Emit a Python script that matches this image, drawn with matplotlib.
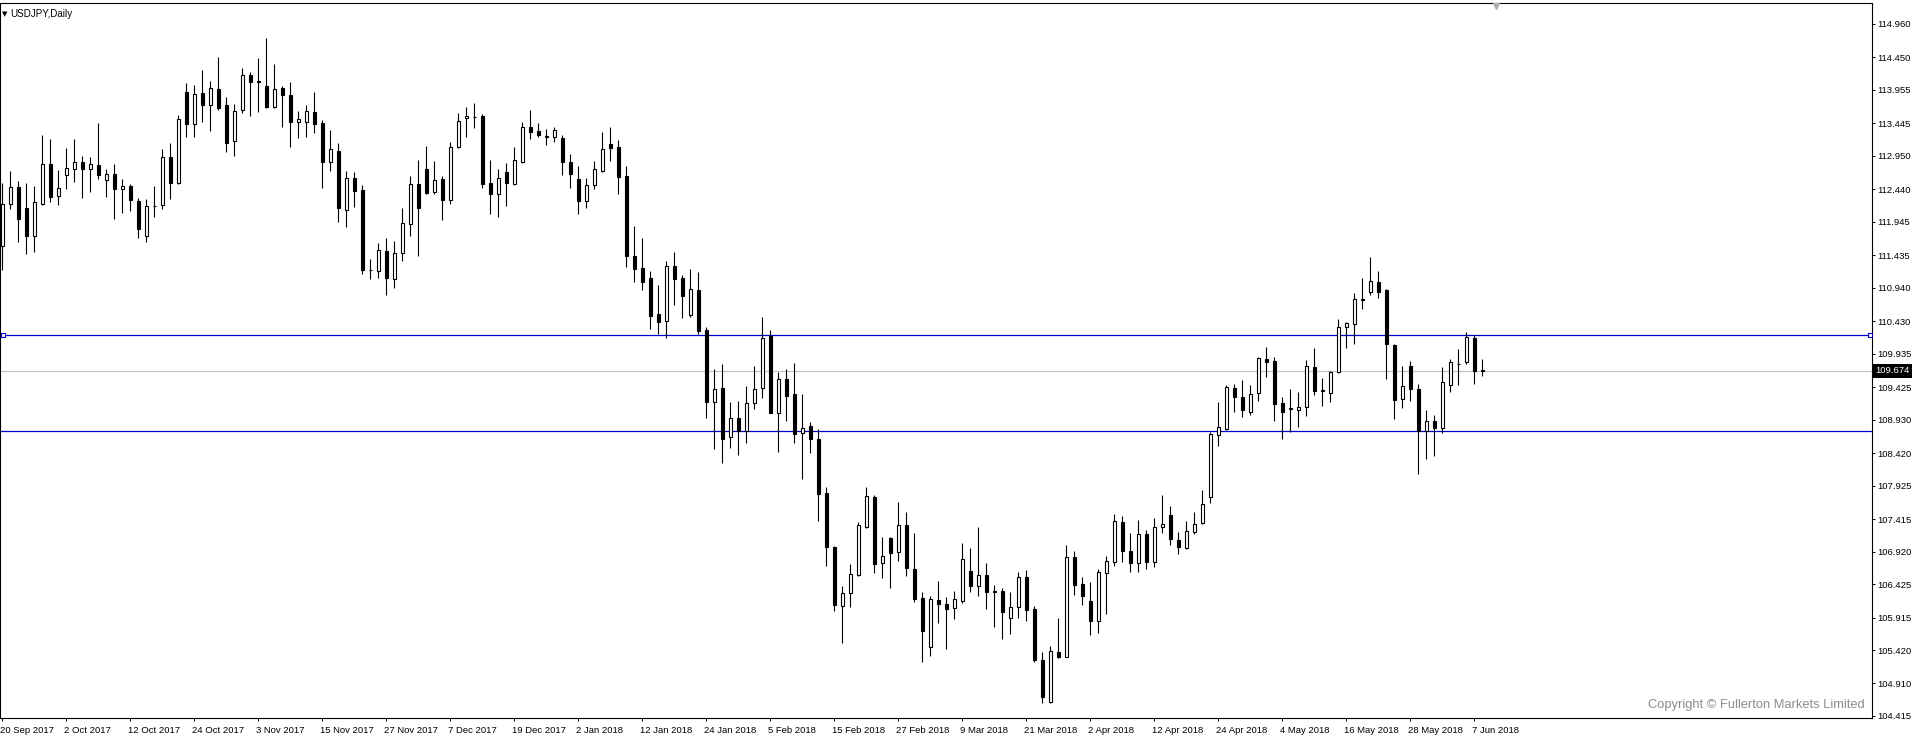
import numpy as np
import matplotlib.pyplot as plt
from matplotlib.transforms import blended_transform_factory, ScaledTranslation

plt.rcParams.update({
    'font.family': ['Liberation Sans', 'DejaVu Sans'],
    'font.size': 6.8,
})

# daily OHLC, USDJPY, 20 Sep 2017 .. 8 Jun 2018
opens = [
    111.582, 112.212, 112.471, 112.151, 111.724, 112.212, 112.821, 112.334, 112.654, 112.745,
    112.852, 112.745, 112.806, 112.578, 112.669, 112.440, 112.491, 112.263, 111.724, 112.191,
    112.197, 112.928, 112.532, 113.930, 113.431, 113.908, 113.731, 113.964, 113.720, 113.172,
    113.644, 114.178, 114.090, 114.010, 113.690, 113.980, 113.873, 113.461, 113.461, 113.614,
    113.446, 112.862, 113.024, 112.120, 112.608, 112.425, 111.208, 111.191, 111.500, 111.080,
    111.465, 111.907, 112.517, 112.750, 112.405, 112.598, 112.273, 113.080, 113.522, 113.550,
    113.558, 112.532, 112.374, 112.699, 112.527, 112.862, 113.385, 113.324, 113.248, 113.233,
    113.223, 112.857, 112.593, 112.268, 112.501, 112.720, 113.131, 113.080, 112.644, 111.424,
    111.241, 111.089, 110.540, 110.439, 111.272, 111.089, 110.530, 110.906, 110.297, 109.204,
    109.418, 108.671, 108.950, 108.752, 109.179, 109.408, 110.205, 109.037, 109.545, 109.316,
    108.722, 108.829, 108.636, 107.813, 106.985, 106.096, 106.284, 106.563, 107.300, 107.752,
    106.741, 107.127, 106.909, 107.325, 106.654, 106.208, 105.461, 106.177, 106.116, 106.055,
    106.172, 106.624, 106.401, 106.558, 106.314, 106.314, 105.903, 106.081, 106.528, 106.045,
    105.263, 104.633, 105.385, 105.319, 106.833, 106.421, 106.162, 105.867, 106.589, 106.756,
    107.366, 106.924, 106.741, 107.188, 106.766, 107.290, 107.472, 107.091, 106.970, 107.213,
    107.351, 107.757, 108.692, 108.793, 109.408, 109.276, 109.052, 109.332, 109.850, 109.824,
    109.179, 109.103, 109.073, 109.118, 109.728, 109.377, 109.332, 109.652, 110.348, 110.383,
    110.764, 110.871, 111.023, 110.906, 110.063, 109.240, 109.748, 109.393, 108.752, 108.905,
    108.798, 109.454, 109.774, 109.804, 110.170, 109.680,
]
highs = [
    112.532, 112.720, 112.567, 112.532, 112.491, 113.269, 113.202, 112.735, 113.065, 113.202,
    112.948, 112.928, 113.446, 112.745, 112.821, 112.593, 112.522, 112.303, 112.288, 112.491,
    113.050, 113.141, 113.573, 114.061, 114.030, 114.259, 114.091, 114.457, 113.853, 113.741,
    114.284, 114.223, 114.442, 114.747, 114.350, 114.015, 114.071, 113.634, 113.726, 113.924,
    113.497, 113.345, 113.141, 112.720, 112.699, 112.506, 111.374, 111.617, 111.694, 111.653,
    112.151, 112.644, 112.887, 113.101, 112.872, 112.644, 113.157, 113.599, 113.690, 113.751,
    113.583, 112.882, 112.750, 112.837, 113.080, 113.461, 113.649, 113.446, 113.365, 113.385,
    113.268, 112.974, 112.796, 112.608, 112.872, 113.309, 113.390, 113.192, 112.796, 111.882,
    111.699, 111.196, 110.982, 111.348, 111.480, 111.135, 111.226, 111.181, 110.342, 109.707,
    109.778, 109.199, 109.215, 109.443, 109.748, 110.495, 110.297, 109.652, 109.697, 109.789,
    109.322, 108.895, 108.788, 107.899, 107.005, 106.396, 106.731, 107.371, 107.899, 107.782,
    107.142, 107.147, 107.681, 107.523, 107.208, 106.299, 106.243, 106.472, 106.233, 106.324,
    107.046, 106.970, 107.290, 106.741, 106.411, 106.360, 106.299, 106.609, 106.639, 106.091,
    105.395, 105.481, 105.908, 107.015, 106.929, 106.528, 106.457, 106.650, 106.853, 107.493,
    107.462, 107.208, 107.401, 107.249, 107.432, 107.782, 107.615, 107.218, 107.386, 107.518,
    107.858, 108.747, 109.200, 109.459, 109.474, 109.535, 109.459, 109.880, 110.038, 109.880,
    109.276, 109.398, 109.347, 109.840, 110.017, 109.570, 109.672, 110.464, 110.414, 110.856,
    111.084, 111.409, 111.196, 110.917, 110.078, 109.748, 109.824, 109.474, 109.078, 109.001,
    109.733, 109.855, 110.007, 110.261, 110.220, 109.855,
]
lows = [
    111.211, 112.136, 111.643, 111.460, 111.490, 112.202, 112.252, 112.202, 112.440, 112.557,
    112.313, 112.405, 112.598, 112.329, 111.983, 112.075, 112.115, 111.694, 111.643, 112.024,
    112.136, 112.288, 112.517, 113.243, 113.243, 113.472, 113.334, 113.649, 113.014, 112.953,
    113.599, 113.563, 113.624, 113.685, 113.685, 113.395, 113.091, 113.217, 113.243, 113.304,
    112.466, 112.725, 111.948, 111.871, 112.176, 111.145, 111.069, 111.084, 110.830, 110.930,
    111.353, 111.734, 111.429, 112.364, 112.369, 111.973, 112.212, 113.065, 113.243, 113.370,
    112.456, 112.059, 112.024, 112.191, 112.511, 112.837, 113.202, 113.243, 113.116, 113.157,
    112.659, 112.466, 112.059, 112.151, 112.451, 112.705, 112.877, 112.364, 111.262, 111.028,
    110.906, 110.312, 110.241, 110.180, 110.678, 110.485, 110.495, 110.241, 108.961, 108.483,
    108.275, 108.503, 108.397, 108.580, 109.088, 109.265, 109.027, 108.443, 108.915, 108.580,
    108.031, 108.427, 107.391, 106.705, 106.020, 105.532, 106.081, 106.548, 107.274, 106.588,
    106.512, 106.370, 106.782, 106.553, 106.157, 105.242, 105.334, 105.837, 105.441, 105.888,
    106.142, 106.309, 106.243, 106.045, 105.776, 105.593, 105.664, 105.913, 105.862, 105.237,
    104.618, 104.618, 105.303, 105.319, 106.258, 106.106, 105.649, 105.684, 105.969, 106.700,
    106.766, 106.609, 106.614, 106.650, 106.690, 107.198, 107.025, 106.878, 106.964, 107.183,
    107.346, 107.655, 108.534, 108.778, 109.052, 108.966, 109.002, 109.220, 109.586, 108.915,
    108.641, 108.747, 108.824, 108.991, 109.306, 109.144, 109.205, 109.647, 110.028, 110.078,
    110.612, 110.830, 110.790, 109.555, 108.946, 109.113, 109.220, 108.107, 108.336, 108.382,
    108.722, 109.357, 109.459, 109.774, 109.469, 109.601,
]
closes = [
    112.212, 112.471, 111.983, 111.724, 112.242, 112.821, 112.329, 112.456, 112.760, 112.852,
    112.745, 112.821, 112.654, 112.669, 112.440, 112.486, 112.273, 111.841, 112.186, 112.181,
    112.928, 112.532, 113.507, 113.431, 113.888, 113.731, 113.980, 113.685, 113.152, 113.629,
    114.178, 114.071, 114.082, 113.700, 113.964, 113.873, 113.472, 113.507, 113.634, 113.441,
    112.862, 113.055, 112.161, 112.608, 112.420, 111.206, 111.204, 111.511, 111.084, 111.465,
    111.922, 112.517, 112.161, 112.390, 112.578, 112.283, 113.080, 113.477, 113.553, 113.546,
    112.527, 112.374, 112.608, 112.542, 112.882, 113.385, 113.319, 113.273, 113.238, 113.345,
    112.862, 112.679, 112.268, 112.506, 112.745, 113.050, 113.075, 112.633, 111.424, 111.231,
    111.028, 110.515, 110.424, 111.272, 111.079, 110.820, 110.916, 110.281, 109.204, 109.398,
    108.640, 108.950, 108.752, 109.179, 109.392, 110.170, 109.037, 109.545, 109.296, 108.717,
    108.798, 108.641, 107.803, 106.995, 106.106, 106.284, 106.573, 107.325, 107.767, 106.736,
    106.853, 106.904, 107.325, 106.665, 106.202, 105.715, 106.192, 106.116, 106.050, 106.192,
    106.802, 106.401, 106.558, 106.309, 106.304, 106.004, 106.070, 106.528, 106.035, 105.268,
    104.709, 105.400, 105.319, 106.833, 106.416, 106.243, 105.867, 106.609, 106.772, 107.381,
    106.934, 106.751, 107.183, 106.766, 107.290, 107.335, 107.107, 106.985, 107.228, 107.346,
    107.640, 108.712, 108.813, 109.423, 109.281, 109.078, 109.316, 109.865, 109.814, 109.174,
    109.052, 109.093, 109.118, 109.743, 109.372, 109.362, 109.652, 110.337, 110.398, 110.764,
    110.754, 111.038, 110.881, 110.078, 109.235, 109.438, 109.403, 108.752, 108.905, 108.798,
    109.499, 109.804, 109.784, 110.185, 109.677, 109.674,
]

date_labels = [
    '20 Sep 2017', '2 Oct 2017', '12 Oct 2017', '24 Oct 2017', '3 Nov 2017', '15 Nov 2017',
    '27 Nov 2017', '7 Dec 2017', '19 Dec 2017', '2 Jan 2018', '12 Jan 2018', '24 Jan 2018',
    '5 Feb 2018', '15 Feb 2018', '27 Feb 2018', '9 Mar 2018', '21 Mar 2018', '2 Apr 2018',
    '12 Apr 2018', '24 Apr 2018', '4 May 2018', '16 May 2018', '28 May 2018', '7 Jun 2018',
]
price_ticks = [
    114.960, 114.450, 113.955, 113.445, 112.950, 112.440, 111.945, 111.435, 110.940, 110.430,
    109.935, 109.425, 108.930, 108.420, 107.925, 107.415, 106.920, 106.425, 105.915, 105.420,
    104.910, 104.415,
]
last_price = 109.674
level_hi = 110.216
level_lo = 108.753

fig = plt.figure(figsize=(19.14, 7.39), dpi=100)
ax = fig.add_axes([0, 21 / 739, 1872 / 1914, 715 / 739])

o = np.array(opens)
h = np.array(highs)
l = np.array(lows)
c = np.array(closes)
x = np.arange(len(o))
up = c >= o

ax.vlines(x, l, h, color='black', linewidth=0.8, zorder=2)
ax.bar(x[up], c[up] - o[up], bottom=o[up], width=0.44,
       facecolor='white', edgecolor='black', linewidth=0.8, zorder=3)
ax.bar(x[~up], o[~up] - c[~up], bottom=c[~up], width=0.44,
       facecolor='black', edgecolor='black', linewidth=0.8, zorder=3)

# horizontal levels
ax.axhline(last_price, color='#c0c0c0', linewidth=0.8, zorder=1)
ax.axhline(level_hi, color='#0000cc', linewidth=0.9, zorder=1)
ax.axhline(level_lo, color='#0000cc', linewidth=0.9, zorder=1)
ax.plot([0.05, 233.4], [level_hi, level_hi], linestyle='none', marker='s', ms=3.4,
        mfc='white', mec='#0000cc', mew=0.8, zorder=4, clip_on=False)

ax.set_xlim(-0.3125, 233.69)
ax.set_ylim(104.384, 115.28)

# right price scale
ax.yaxis.tick_right()
ax.set_yticks(price_ticks)
ax.set_yticklabels([f'{p:.3f}' for p in price_ticks])
ax.tick_params(axis='y', direction='out', length=2.5, width=0.7, pad=1.2, labelsize=6.8)

# date scale
ax.set_xticks(x[::8])
ax.set_xticklabels(date_labels)
ax.tick_params(axis='x', direction='out', length=2.5, width=0.7, pad=3, labelsize=6.8)
shift = ScaledTranslation(-2.5 / 100, 0, fig.dpi_scale_trans)
for lbl in ax.get_xticklabels():
    lbl.set_ha('left')
    lbl.set_transform(lbl.get_transform() + shift)

for sp in ax.spines.values():
    sp.set_linewidth(0.8)
    sp.set_color('black')

# current price box
bt = blended_transform_factory(ax.transAxes, ax.transData)
ax.text(1.0019, last_price, f'{last_price:.3f}', transform=bt, ha='left', va='center',
        color='white', fontsize=6.8, zorder=5,
        bbox=dict(boxstyle='square,pad=0.25', facecolor='black', edgecolor='none'))

# chart shift marker
ax.plot([186.7], [115.23], marker='v', ms=4, color='#b0b0b0', mec='#b0b0b0',
        clip_on=False, zorder=5)

fig.text(2 / 1914, 1 - 14 / 739, '\u25bc', fontsize=5, va='center', ha='left',
         family='DejaVu Sans')
fig.text(10 / 1914, 1 - 14 / 739, 'USDJPY,Daily', fontsize=7.1, va='center', ha='left')

ax.text(0.9963, 0.018, 'Copyright \u00a9 Fullerton Markets Limited', transform=ax.transAxes,
        ha='right', va='center', color='#8c8c8c', fontsize=9.3)

fig.savefig('out.png', dpi=100, facecolor='white')
